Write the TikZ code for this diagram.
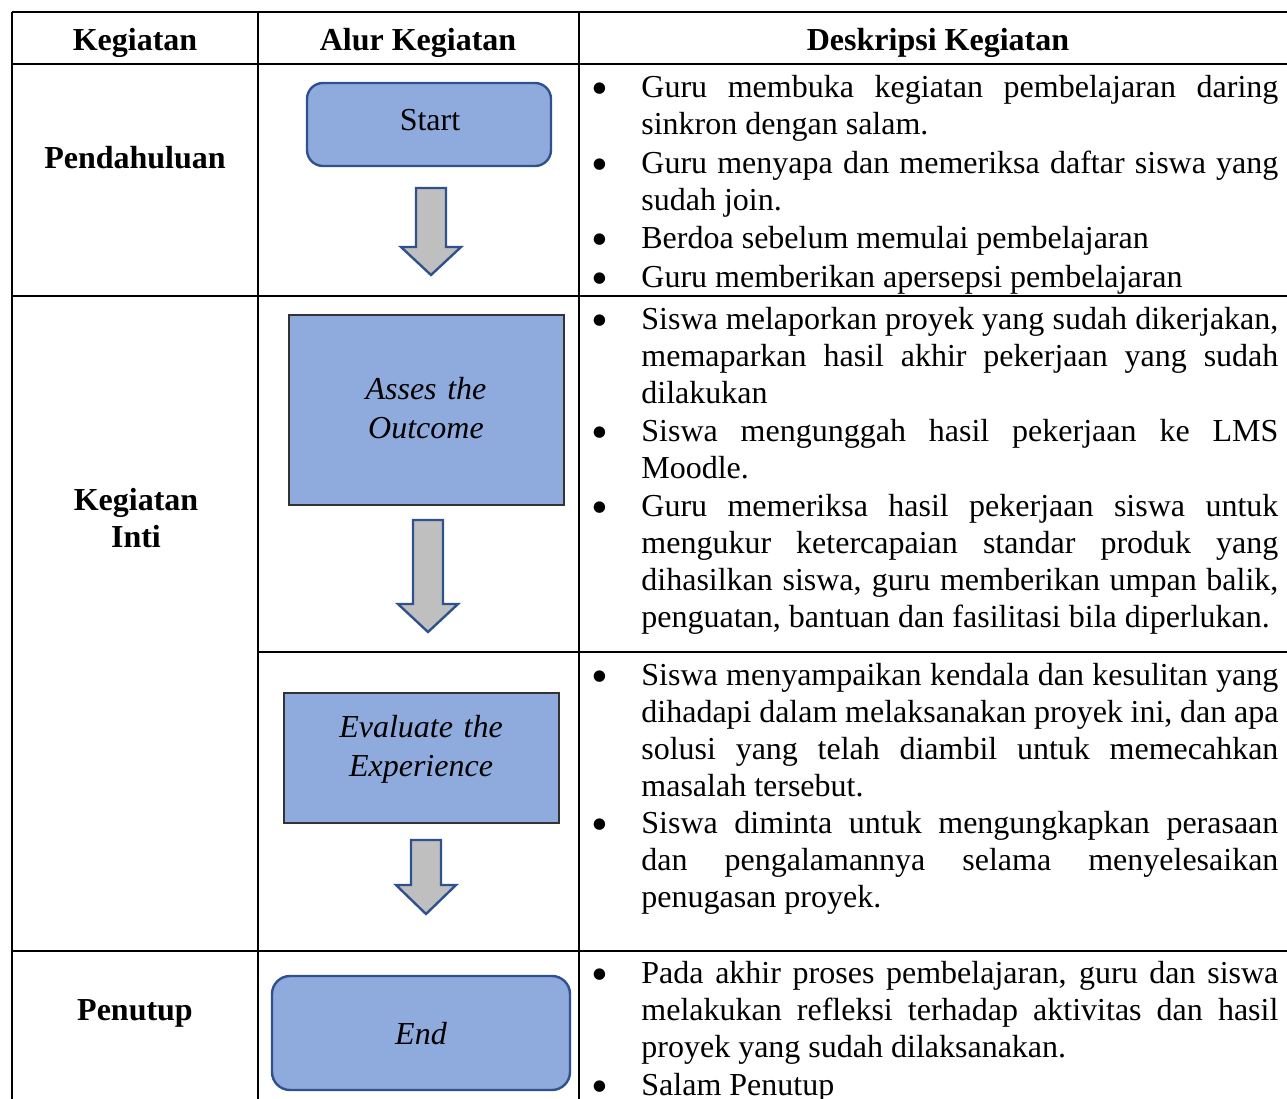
\documentclass[tikz,border=0pt]{standalone}
\usepackage{fontspec}
\setmainfont{Liberation Serif}
\hyphenpenalty=10000
\exhyphenpenalty=10000

\definecolor{boxblue}{HTML}{8FAADC}
\definecolor{edgeblue}{HTML}{2F528F}
\definecolor{arrowgray}{HTML}{BFBFBF}

% block arrow: centre x, top, head base, tip
\newcommand{\flowarrow}[4]{%
	\draw [blockarrow] (#1-15,#2) -- (#1+15,#2) -- (#1+15,#3) -- (#1+30,#3)
		-- (#1,#4) -- (#1-30,#3) -- (#1-15,#3) -- cycle;
}

\begin{document}
\begin{tikzpicture}[x=0.5pt, y=-0.5pt,
	every node/.style = {font=\fontsize{16}{18.65}\selectfont},
	grid/.style = {line width=1pt},
	roundbox/.style = {draw=edgeblue, line width=1.2pt, fill=boxblue, rounded corners=8pt},
	flatbox/.style = {draw=black!80, line width=0.7pt, fill=boxblue},
	boxtext/.style = {anchor=base, inner sep=0pt, text width=140pt, align=center,
		font=\fontsize{16}{19.5}\selectfont\itshape},
	blockarrow/.style = {draw=edgeblue, line width=1.2pt, fill=arrowgray, line join=miter},
	head/.style = {anchor=base, inner sep=0pt, font=\fontsize{16}{18.5}\selectfont\bfseries},
	dot/.style = {anchor=base, inner sep=0pt},
	desc/.style = {anchor=base west, inner sep=0pt, text width=318.5pt, align=justify}]
	\useasboundingbox (0,0) rectangle (1287,1099);
	\clip (0,0) rectangle (1287,1099);

	% table
	\draw [grid] (12,12) -- (1287,12);
	\draw [grid] (12,64) -- (1287,64);
	\draw [grid] (12,296) -- (1287,296);
	\draw [grid] (258,652) -- (1287,652);
	\draw [grid] (12,951) -- (1287,951);
	\foreach \x in {12,258,579}{
		\draw [grid] (\x,12) -- (\x,1099);
	}

	% heads
	\node [head] (h1) at (135,50) {Kegiatan};
	\node [head] (h2) at (418,50) {Alur Kegiatan};
	\node [head] (h3) at (938,50) {Deskripsi Kegiatan};
	\node [head] (k1) at (135,168) {Pendahuluan};
	\node [head, text width=120pt, align=center] (k2) at (136,510) {Kegiatan\\Inti};
	\node [head] (k3) at (135,1020) {Penutup};

	% flow
	\node [roundbox, minimum width=122pt, minimum height=41.5pt] (start) at (429,124.5) {};
	\node [flatbox, minimum width=137.5pt, minimum height=95pt] (outcome) at (426.5,410) {};
	\node [flatbox, minimum width=137.5pt, minimum height=65pt] (experience) at (421.5,758) {};
	\node [roundbox, rounded corners=9pt, minimum width=149pt, minimum height=57pt] (finish) at (421,1033) {};
	\node [boxtext, font=\fontsize{16}{19.5}\selectfont] (t1) at (430,130) {Start};
	\node [boxtext] (t2) at (426,399) {Asses the\\Outcome};
	\node [boxtext] (t3) at (421,737) {Evaluate the\\Experience};
	\node [boxtext] (t4) at (421,1044) {End};
	\flowarrow{431}{188}{247}{275}
	\flowarrow{428}{520}{604}{632}
	\flowarrow{426}{840}{885}{914}

	% descriptions
	\foreach \y in {97,173,248,287,329,441,516,685,833,983,1095}{
		\node [dot] (b\y) at (600,\y+7) {\scalebox{1.5}{\textbullet}};
	}
	\node [desc] (d1) at (641,97) {Guru membuka kegiatan pembelajaran daring\linebreak sinkron dengan salam.};
	\node [desc] (d2) at (641,173) {Guru menyapa dan memeriksa daftar siswa yang\linebreak sudah join.};
	\node [desc] (d3) at (641,248) {Berdoa sebelum memulai pembelajaran};
	\node [desc] (d4) at (641,287) {Guru memberikan apersepsi pembelajaran};
	\node [desc] (d5) at (641,329) {Siswa melaporkan proyek yang sudah dikerjakan,\linebreak memaparkan hasil akhir pekerjaan yang sudah\linebreak dilakukan};
	\node [desc] (d6) at (641,441) {Siswa mengunggah hasil pekerjaan ke LMS\linebreak Moodle.};
	\node [desc] (d7) at (641,516) {Guru memeriksa hasil pekerjaan siswa untuk\linebreak mengukur ketercapaian standar produk yang\linebreak dihasilkan siswa, guru memberikan umpan balik,\linebreak penguatan, bantuan dan fasilitasi bila diperlukan.};
	\node [desc] (d8) at (641,685) {Siswa menyampaikan kendala dan kesulitan yang\linebreak dihadapi dalam melaksanakan proyek ini, dan apa\linebreak solusi yang telah diambil untuk memecahkan\linebreak masalah tersebut.};
	\node [desc] (d9) at (641,833) {Siswa diminta untuk mengungkapkan perasaan\linebreak dan pengalamannya selama menyelesaikan\linebreak penugasan proyek.};
	\node [desc] (d10) at (641,983) {Pada akhir proses pembelajaran, guru dan siswa\linebreak melakukan refleksi terhadap aktivitas dan hasil\linebreak proyek yang sudah dilaksanakan.};
	\node [desc] (d11) at (641,1095) {Salam Penutup};
\end{tikzpicture}
\end{document}
